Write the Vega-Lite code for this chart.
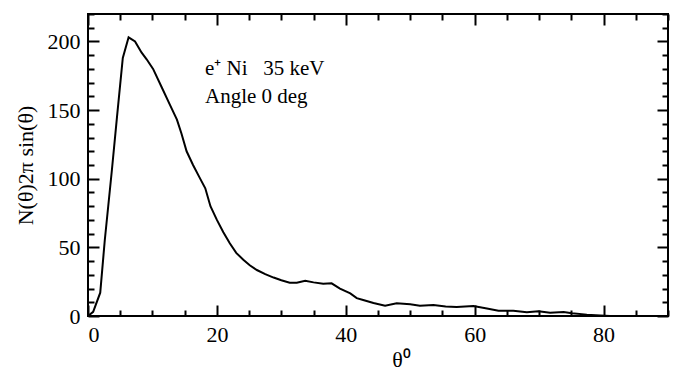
{
  "$schema": "https://vega.github.io/schema/vega-lite/v6.json",
  "width": 580,
  "height": 302,
  "autosize": {"type": "none"},
  "padding": {"left": 88, "top": 14, "right": 9, "bottom": 55},
  "background": "white",
  "layer": [
    {
      "data": {"values": [
        {"theta": 0, "v": 0}, {"theta": 0.8, "v": 3}, {"theta": 1.9, "v": 17}, {"theta": 2.6, "v": 55},
        {"theta": 3.7, "v": 106}, {"theta": 4.5, "v": 145}, {"theta": 5.4, "v": 188}, {"theta": 6.3, "v": 203},
        {"theta": 7.3, "v": 200}, {"theta": 8.3, "v": 192}, {"theta": 9.1, "v": 187}, {"theta": 10.1, "v": 180},
        {"theta": 11.4, "v": 167}, {"theta": 12.7, "v": 154}, {"theta": 13.8, "v": 143}, {"theta": 14.5, "v": 133},
        {"theta": 15.3, "v": 120}, {"theta": 16.3, "v": 110}, {"theta": 17.3, "v": 101}, {"theta": 18.2, "v": 93},
        {"theta": 19.0, "v": 80}, {"theta": 20.0, "v": 70}, {"theta": 21.0, "v": 61}, {"theta": 22.0, "v": 53},
        {"theta": 23.0, "v": 46}, {"theta": 24.1, "v": 41}, {"theta": 25.1, "v": 37}, {"theta": 26.2, "v": 33.5},
        {"theta": 27.5, "v": 30.5}, {"theta": 28.8, "v": 28}, {"theta": 30.0, "v": 26}, {"theta": 31.3, "v": 24.3},
        {"theta": 32.4, "v": 24.3}, {"theta": 33.7, "v": 25.7}, {"theta": 35.0, "v": 24.5}, {"theta": 36.5, "v": 23.5},
        {"theta": 37.8, "v": 23.8}, {"theta": 39.1, "v": 20}, {"theta": 40.7, "v": 16.5}, {"theta": 41.7, "v": 13},
        {"theta": 42.7, "v": 11.6}, {"theta": 44.3, "v": 9.5}, {"theta": 46.1, "v": 7.5}, {"theta": 47.9, "v": 9.2},
        {"theta": 50.0, "v": 8.5}, {"theta": 51.5, "v": 7.5}, {"theta": 53.6, "v": 8}, {"theta": 55.5, "v": 7},
        {"theta": 57.2, "v": 6.5}, {"theta": 59.8, "v": 7.2}, {"theta": 61.9, "v": 5.5}, {"theta": 63.7, "v": 3.9},
        {"theta": 66.0, "v": 3.9}, {"theta": 68.1, "v": 2.7}, {"theta": 69.9, "v": 3.5}, {"theta": 71.7, "v": 2.4},
        {"theta": 73.8, "v": 2.9}, {"theta": 75.1, "v": 2}, {"theta": 77.4, "v": 1}, {"theta": 79.5, "v": 0.4},
        {"theta": 81, "v": 0}
      ]},
      "mark": {"type": "line", "color": "black", "strokeWidth": 2},
      "encoding": {
        "x": {
          "field": "theta", "type": "quantitative",
          "scale": {"domain": [0, 90], "nice": false, "zero": false},
          "axis": {
            "orient": "bottom",
            "values": [0,5,10,15,20,25,30,35,40,45,50,55,60,65,70,75,80,85,90],
            "tickSize": {"condition": {"test": "datum.value % 20 === 0", "value": -11}, "value": -6},
            "labelExpr": "datum.value % 20 === 0 && datum.value < 90 ? datum.label : ''",
            "labelPadding": 19,
            "title": "θ⁰",
            "titleX": 313,
            "titleY": 50,
            "titleBaseline": "alphabetic",
            "titleAlign": "center"
          }
        },
        "y": {
          "field": "v", "type": "quantitative",
          "scale": {"domain": [0, 220], "nice": false},
          "axis": {
            "orient": "left",
            "values": [0,10,20,30,40,50,60,70,80,90,100,110,120,130,140,150,160,170,180,190,200,210,220],
            "tickSize": {"condition": {"test": "datum.value % 50 === 0", "value": -11}, "value": -6},
            "labelExpr": "datum.value % 50 === 0 ? datum.label : ''",
            "labelPadding": 19,
            "title": "N(θ)2π sin(θ)",
            "titleX": -63,
            "titleY": 151,
            "titleBaseline": "middle",
            "titleAlign": "center",
            "titleAngle": -90
          }
        }
      }
    },
    {
      "data": {"values": [{"note": "annotation"}]},
      "mark": {"type": "text", "align": "left", "baseline": "alphabetic", "font": "Liberation Serif", "fontSize": 21, "lineHeight": 28, "fill": "black"},
      "encoding": {
        "x": {
          "datum": 18.15, "type": "quantitative",
          "axis": {
            "orient": "top",
            "values": [0,5,10,15,20,25,30,35,40,45,50,55,60,65,70,75,80,85,90],
            "tickSize": {"condition": {"test": "datum.value % 20 === 0", "value": -11}, "value": -6},
            "labels": false,
            "title": null
          }
        },
        "y": {
          "datum": 175.6, "type": "quantitative",
          "axis": {
            "orient": "right",
            "values": [0,10,20,30,40,50,60,70,80,90,100,110,120,130,140,150,160,170,180,190,200,210,220],
            "tickSize": {"condition": {"test": "datum.value % 50 === 0", "value": -11}, "value": -6},
            "labels": false,
            "title": null
          }
        },
        "text": {"value": ["e⁺ Ni\u00a0\u00a0 35 keV", "Angle 0 deg"]}
      }
    }
  ],
  "config": {
    "view": {"stroke": "black", "strokeWidth": 2},
    "axis": {
      "domain": false,
      "grid": false,
      "tickColor": "black",
      "tickWidth": 2,
      "labelFont": "Liberation Serif",
      "labelFontSize": 22,
      "labelColor": "black",
      "titleFont": "Liberation Serif",
      "titleFontSize": 22,
      "titleFontWeight": "normal",
      "titleColor": "black"
    }
  }
}
